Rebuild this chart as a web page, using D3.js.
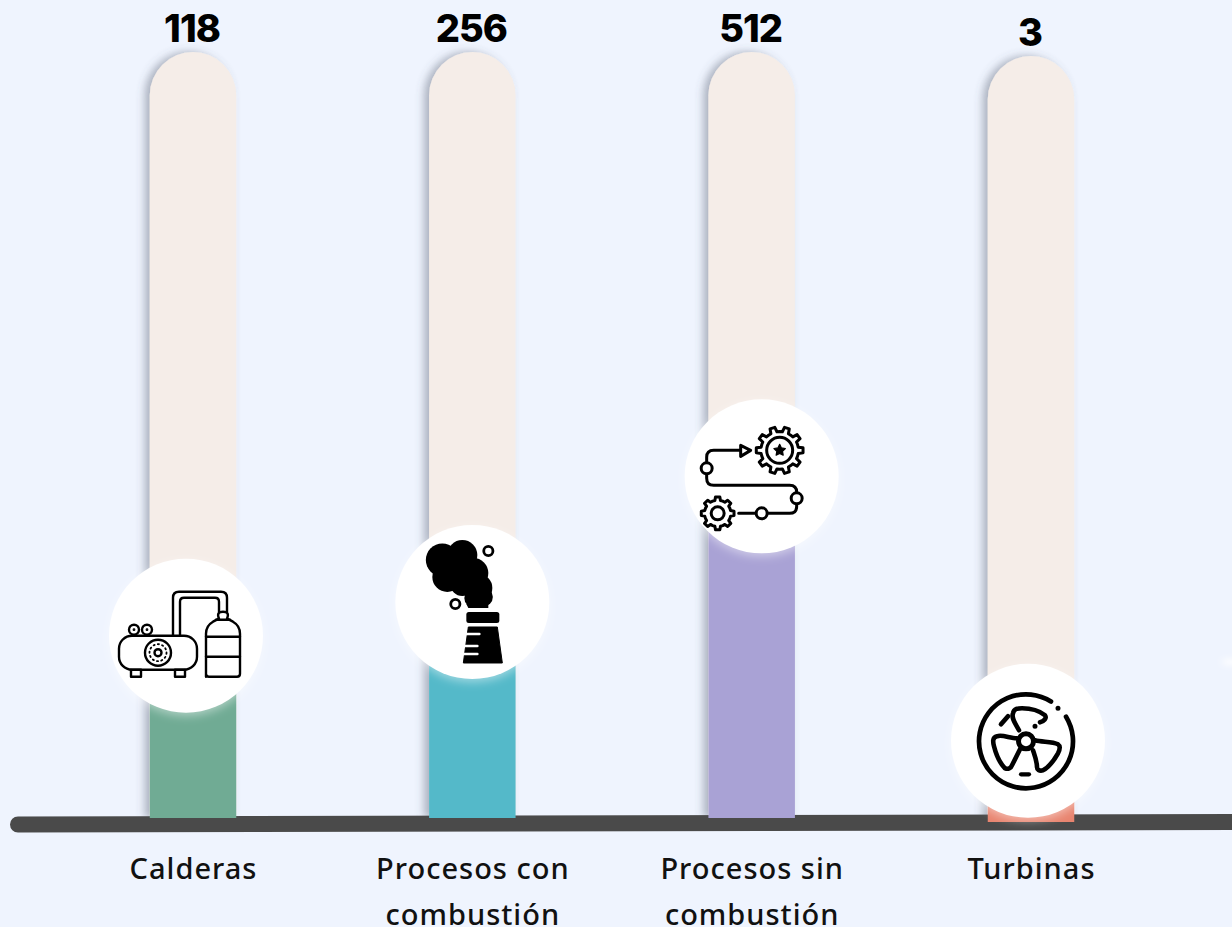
<!DOCTYPE html>
<html>
<head>
<meta charset="utf-8">
<script src="https://cdn.jsdelivr.net/npm/d3@7"></script>
<style>
html, body { margin: 0; padding: 0; background: #eff4fe; overflow: hidden; }
svg { display: block; }
</style>
</head>
<body>
<script>
const categories = ["Calderas", "Procesos con combustión", "Procesos sin combustión", "Turbinas"];
const labels = [118, 256, 512, 3];
// share of each track that is filled, the tops sit behind the icons
const fillShare = [18, 22, 38, 3];
// height of the icon badge on the track, same share units
const badgeShare = [23.8, 28.2, 44.6, 10.6];
const fillColors = ["#70ab94", "#54b9c9", "#a9a2d5", "#e8846f"];
const iconNames = ["boiler", "chimney", "process", "turbine"];

const width = 1232, height = 927;
const badgeRadius = 77;
const badgeNudge = [-7, 0, 10, -3];
const trackNudge = [0, 0, 0, 4];

const svg = d3.select("body").append("svg").attr("width", width).attr("height", height);
const defs = svg.append("defs");

const trackShadow = defs.append("filter").attr("id", "trackShadow")
  .attr("x", "-40%").attr("y", "-5%").attr("width", "170%").attr("height", "110%");
trackShadow.append("feDropShadow").attr("dx", -5).attr("dy", 0).attr("stdDeviation", 4)
  .attr("flood-color", "#4c5468").attr("flood-opacity", 0.42);

const badgeShadow = defs.append("filter").attr("id", "badgeShadow")
  .attr("x", "-30%").attr("y", "-30%").attr("width", "160%").attr("height", "160%");
badgeShadow.append("feDropShadow").attr("dx", 0).attr("dy", 3).attr("stdDeviation", 5)
  .attr("flood-color", "#ffffff").attr("flood-opacity", 0.45);

const smudge = defs.append("filter").attr("id", "smudge")
  .attr("x", "-100%").attr("y", "-300%").attr("width", "300%").attr("height", "700%");
smudge.append("feGaussianBlur").attr("stdDeviation", 3);

const xScale = d3.scalePoint().domain(categories).range([193, 1031]);
const yScale = d3.scaleLinear().domain([0, 100]).range([818, 52]);
const barWidth = 86.5;

// tracks
const bars = svg.selectAll("g.bar").data(categories).join("g")
  .attr("class", "bar")
  .attr("transform", (d, i) => `translate(${xScale(d)}, ${trackNudge[i]})`);

bars.append("path")
  .attr("fill", "#f5ede8")
  .attr("filter", "url(#trackShadow)")
  .attr("d", () => {
    const r = barWidth / 2, top = yScale(100), bottom = yScale(0);
    return `M${-r},${bottom}V${top + r}A${r},${r} 0 0 1 ${r},${top + r}V${bottom}Z`;
  });

// baseline
svg.append("line")
  .attr("x1", 18).attr("y1", 824.5)
  .attr("x2", 1260).attr("y2", 822)
  .attr("stroke", "#4a4a4a").attr("stroke-width", 16).attr("stroke-linecap", "round");

// fills go over the baseline's top edge
svg.selectAll("rect.fill").data(categories).join("rect")
  .attr("class", "fill")
  .attr("x", d => xScale(d) - barWidth / 2)
  .attr("width", barWidth)
  .attr("y", (d, i) => yScale(fillShare[i]) + trackNudge[i])
  .attr("height", (d, i) => yScale(0) - yScale(fillShare[i]))
  .attr("fill", (d, i) => fillColors[i]);

// faint leftover at the right edge of the slide
svg.append("ellipse")
  .attr("cx", 1232).attr("cy", 662).attr("rx", 11).attr("ry", 3)
  .attr("fill", "#fff").attr("filter", "url(#smudge)");

// value labels
svg.selectAll("text.value").data(labels).join("text")
  .attr("class", "value")
  .attr("x", (d, i) => xScale(categories[i]) - 1)
  .attr("y", (d, i) => 41.5 + trackNudge[i])
  .attr("text-anchor", "middle")
  .attr("font-family", "Inter, 'Open Sans', sans-serif")
  .attr("font-weight", 800)
  .attr("font-size", 38)
  .attr("letter-spacing", -1)
  .attr("fill", "#000")
  .text(d => d);

// category labels
const xAxis = d3.axisBottom(xScale).tickSize(0).tickPadding(0);
const axisG = svg.append("g")
  .attr("transform", "translate(0, 851)")
  .call(xAxis);
axisG.select(".domain").remove();
axisG.selectAll("text")
  .attr("font-family", "'Noto Sans', Lato, sans-serif")
  .attr("font-size", 29)
  .attr("font-weight", 500)
  .attr("letter-spacing", 1)
  .attr("fill", "#111")
  .each(function (d) {
    const text = d3.select(this);
    const words = d.split(" ");
    const lines = words.length > 1 ? [words.slice(0, -1).join(" "), words[words.length - 1]] : [d];
    text.text(null).attr("y", 0).attr("dy", null);
    lines.forEach((line, k) => {
      text.append("tspan").attr("x", 0).attr("y", 28 + k * 45.5).text(line);
    });
  });

// small helpers for the icons
function gearPath(r, teeth) {
  const pts = [];
  const step = Math.PI * 2 / teeth;
  const inner = r * 0.8;
  for (let t = 0; t < teeth; t++) {
    const a = t * step;
    [[-0.5, inner], [-0.27, inner], [-0.17, r], [0.17, r], [0.27, inner], [0.5, inner]].forEach(p => {
      pts.push([Math.cos(a + p[0] * step) * p[1], Math.sin(a + p[0] * step) * p[1]]);
    });
  }
  return d3.line().curve(d3.curveLinearClosed)(pts);
}

function starPath(r) {
  const pts = d3.range(10).map(i => {
    const a = -Math.PI / 2 + i * Math.PI / 5;
    const q = i % 2 ? r * 0.5 : r;
    return [Math.cos(a) * q, Math.sin(a) * q];
  });
  return d3.line().curve(d3.curveLinearClosed)(pts);
}

const arc = d3.arc();

const iconDraw = {
  boiler(g) {
    const s = g.append("g").attr("fill", "none").attr("stroke", "#000").attr("stroke-width", 2.4)
      .attr("stroke-linejoin", "round").attr("stroke-linecap", "round");
    s.append("rect").attr("x", -67).attr("y", 0).attr("width", 78).attr("height", 34).attr("rx", 13);
    s.append("rect").attr("x", -55).attr("y", 34).attr("width", 10).attr("height", 7);
    s.append("rect").attr("x", -11).attr("y", 34).attr("width", 10).attr("height", 7);
    [-52, -39].forEach(cx => {
      s.append("circle").attr("cx", cx).attr("cy", -6).attr("r", 5);
      s.append("circle").attr("cx", cx).attr("cy", -6).attr("r", 0.8).attr("stroke-width", 1.2);
    });
    s.append("circle").attr("cx", -28).attr("cy", 17).attr("r", 13);
    s.append("circle").attr("cx", -28).attr("cy", 17).attr("r", 3.5);
    s.append("circle").attr("cx", -28).attr("cy", 17).attr("r", 8.5)
      .attr("stroke-dasharray", "1.2 3.2").attr("stroke-width", 1.8);
    s.append("path").attr("d", "M-13,0V-38Q-13,-44 -7,-44H35Q41,-44 41,-38V-24");
    s.append("path").attr("d", "M-6,0V-34Q-6,-38 -2,-38H29Q33,-38 33,-34V-24");
    s.append("path").attr("d", "M20,41V-2Q20,-10 27,-14L33,-17Q30,-24 37,-24Q44,-24 41,-17L47,-14Q54,-10 54,-2V38Q54,41 51,41H23Q20,41 20,38Z");
    s.append("path").attr("d", "M20,1H54M20,21H54");
    s.append("path").attr("d", "M30,-16H44");
  },
  chimney(g) {
    const puffs = [[-30, -42, 16.5], [-10, -47, 15], [1, -29, 15], [-25, -25, 15], [-15, -35, 15], [-10, -18, 12], [6, -14, 14], [11, -5, 9.5], [2, -4, 10]];
    g.selectAll("circle.puff").data(puffs).join("circle")
      .attr("class", "puff")
      .attr("cx", d => d[0]).attr("cy", d => d[1]).attr("r", d => d[2]).attr("fill", "#000");
    g.append("path").attr("d", "M-6,2H16V6H-4Z").attr("fill", "#000");
    [[16, -51], [-17, 2]].forEach(c => {
      g.append("circle").attr("cx", c[0]).attr("cy", c[1]).attr("r", 4.6)
        .attr("fill", "none").attr("stroke", "#000").attr("stroke-width", 2.8);
    });
    g.append("rect").attr("x", -6).attr("y", 10).attr("width", 33).attr("height", 11).attr("rx", 2.5).attr("fill", "#000");
    g.append("path").attr("d", "M-4,25H25L30,61H-9Z").attr("fill", "#000").attr("stroke", "#000").attr("stroke-linejoin", "round");
    g.append("path").attr("d", "M-7,32H7M-9,44H5M-11,52H5")
      .attr("stroke", "#fff").attr("stroke-width", 2.6).attr("stroke-linecap", "round");
  },
  process(g) {
    const s = g.append("g").attr("fill", "none").attr("stroke", "#000").attr("stroke-width", 3)
      .attr("stroke-linejoin", "round").attr("stroke-linecap", "round");
    s.append("path").attr("d", gearPath(23.5, 10)).attr("transform", "translate(18,-26)");
    s.append("circle").attr("cx", 18).attr("cy", -26).attr("r", 13);
    s.append("path").attr("d", starPath(6)).attr("transform", "translate(18,-26)").attr("fill", "#000").attr("stroke-width", 1.2);
    s.append("path").attr("d", gearPath(16.5, 8)).attr("transform", "translate(-44,37)");
    s.append("circle").attr("cx", -44).attr("cy", 37).attr("r", 6.5);
    s.append("path").attr("d", "M-21,-26H-48Q-55,-26 -55,-19V2Q-55,9 -48,9H28Q35,9 35,16V30Q35,37 28,37H-23");
    s.append("path").attr("d", "M-21,-31L-11,-26L-21,-20Z").attr("fill", "#fff");
    [[-55, -8], [35, 22], [0, 37]].forEach(c => {
      s.append("circle").attr("cx", c[0]).attr("cy", c[1]).attr("r", 5.5).attr("fill", "#fff");
    });
  },
  turbine(g) {
    const s = g.append("g").attr("transform", "translate(-2,0.5)").attr("fill", "none").attr("stroke", "#000").attr("stroke-width", 4.7)
      .attr("stroke-linejoin", "round").attr("stroke-linecap", "round");
    const ring = d => arc({ innerRadius: 47, outerRadius: 47, startAngle: d[0], endAngle: d[1] });
    s.append("path").attr("d", ring([1.02, Math.PI * 2 + 0.56]));
    s.append("circle").attr("cx", 0).attr("cy", 0).attr("r", 7.5).attr("stroke-width", 5);
    const blades = s.append("g").attr("stroke-width", 4.6);
    blades.append("path").attr("d", "M-7,-11C-10,-17 -15,-23 -13,-28C-12,-33 -8,-33 -4,-33C6,-33 14,-30 19,-26C21,-23 18,-20 14,-19");
    blades.append("path").attr("d", "M-9,-3C-16,-3 -24,-7 -29,-5C-34,-4 -33,1 -32,5C-30,13 -26,22 -21,27C-18,28 -15,27 -14,24L-6,8");
    blades.append("path").attr("d", "M9,-1C16,1 26,0 32,3C35,5 34,8 32,12C28,19 23,26 17,29C13,30 11,28 11,26C11,20 9,15 7,9");
    s.append("path").attr("d", "M-25,-17L-18,-25");
    s.append("path").attr("d", "M-5,33H3").attr("stroke-width", 4.2);
    s.append("circle").attr("cx", 9).attr("cy", -15).attr("r", 1.3).attr("fill", "#000").attr("stroke-width", 2.4);
    s.append("circle").attr("cx", 32).attr("cy", -33).attr("r", 1.3).attr("fill", "#000").attr("stroke-width", 2.4);
  }
};

// badges
const badges = svg.selectAll("g.badge").data(categories).join("g")
  .attr("class", "badge")
  .attr("transform", (d, i) => `translate(${xScale(d) + badgeNudge[i]}, ${yScale(badgeShare[i]) + trackNudge[i]})`);

badges.append("circle")
  .attr("r", badgeRadius)
  .attr("fill", "#fff")
  .attr("filter", "url(#badgeShadow)");

badges.each(function (d, i) {
  iconDraw[iconNames[i]](d3.select(this).append("g"));
});
</script>
</body>
</html>
